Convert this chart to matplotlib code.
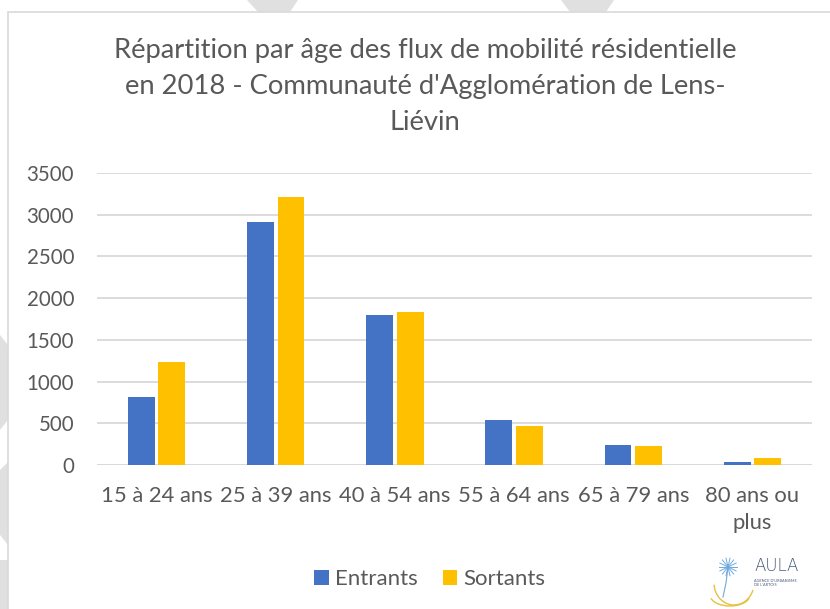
import matplotlib
matplotlib.use("Agg")
import matplotlib.pyplot as plt
from matplotlib.patches import Patch, Polygon, Rectangle, Arc
import numpy as np

plt.rcParams['font.family'] = ['Lato', 'DejaVu Sans']

categories = ['15 à 24 ans', '25 à 39 ans', '40 à 54 ans', '55 à 64 ans',
              '65 à 79 ans', '80 ans ou\nplus']
entrants = [810, 2915, 1796, 545, 244, 40]
sortants = [1231, 3216, 1832, 465, 224, 80]
series_names = ['Entrants', 'Sortants']

BLUE = '#4472C4'
ORANGE = '#FFC000'
TEXT = '#595959'
GRID = '#D9D9D9'

W, H = 830, 609
fig = plt.figure(figsize=(W / 100, H / 100), dpi=100)


def fx(px):
    return px / W


def fy(py):
    return 1 - py / H


# watermark stripes behind the chart frame
for poly in ([(247, 0), (298, 0), (290, 12), (258, 12)],
             [(561, 0), (614, 0), (606, 12), (570, 12)],
             [(0, 335), (8, 345), (8, 420), (0, 430)],
             [(0, 470), (8, 462), (8, 545), (0, 535)],
             [(0, 560), (8, 560), (8, 609), (0, 609)]):
    fig.patches.append(Polygon([(fx(a), fy(b)) for a, b in poly], closed=True,
                               transform=fig.transFigure, facecolor='#E0E0E0',
                               edgecolor='none', zorder=0))

# chart frame
fig.patches.append(Rectangle((fx(8), fy(620)), fx(840) - fx(8), fy(12) - fy(620),
                             transform=fig.transFigure, facecolor='white',
                             edgecolor=GRID, linewidth=1.2, zorder=1))

ax = fig.add_axes([fx(97), fy(465), fx(812) - fx(97), fy(173) - fy(465)])
ax.set_zorder(3)
ax.set_facecolor('none')

x = np.arange(len(categories))
bw = 0.225
off = 0.1275
ax.bar(x - off, entrants, bw, color=BLUE, label=series_names[0], zorder=3)
ax.bar(x + off, sortants, bw, color=ORANGE, label=series_names[1], zorder=3)

ax.set_xlim(-0.5, len(categories) - 0.5)
ax.set_ylim(0, 3500)
ax.set_yticks(range(0, 3501, 500))
ax.yaxis.grid(True, color=GRID, linewidth=1.3, zorder=0)
ax.set_axisbelow(True)
for s in ax.spines.values():
    s.set_visible(False)
ax.axhline(0, color=GRID, linewidth=1.3, zorder=2)

ax.set_xticks(x)
ax.set_xticklabels(categories, fontsize=15.8, color=TEXT, linespacing=1.45)
ax.tick_params(axis='x', length=0, pad=15)
ax.tick_params(axis='y', length=0, pad=16.5, labelsize=14.8, labelcolor=TEXT)

fig.text(fx(425), fy(86.5),
         "Répartition par âge des flux de mobilité résidentielle\n"
         "en 2018 - Communauté d'Agglomération de Lens-\nLiévin",
         ha='center', va='center', fontsize=19.7, color=TEXT, linespacing=1.53,
         zorder=4)

handles = [Patch(facecolor=BLUE), Patch(facecolor=ORANGE)]
leg = fig.legend(handles, series_names, loc='center', bbox_to_anchor=(fx(430), fy(579)),
                 ncol=2, frameon=False, fontsize=16, labelcolor=TEXT,
                 handlelength=0.65, handleheight=0.65, handletextpad=0.3,
                 columnspacing=1.1)
leg.set_zorder(4)

# small AULA logo (pixel coordinates inside a 100x62 box)
lg = fig.add_axes([fx(708), fy(607), fx(808) - fx(708), fy(545) - fy(607)])
lg.set_zorder(4)
lg.set_xlim(0, 100)
lg.set_ylim(62, 0)
lg.axis('off')
lg.add_patch(Arc((26, 38), 40, 44, theta1=20, theta2=175, color='#E8C040', lw=1.0))
lg.add_patch(Arc((22, 50), 40, 22, theta1=10, theta2=170, color='#E8C040', lw=1.0))
for ang in np.linspace(0, 2 * np.pi, 14, endpoint=False):
    lg.plot([20, 20 + 9 * np.cos(ang)], [22, 22 + 9 * np.sin(ang)],
            color='#6FA8DC', lw=0.7)
lg.plot([20, 18, 15], [22, 38, 52], color='#6FA8DC', lw=0.8)
lg.text(46, 21, 'AULA', fontsize=12, color='#4A5A7A', va='center', ha='left',
        family='DejaVu Sans', fontweight='light')
lg.text(46, 38, "AGENCE D'URBANISME\nDE L'ARTOIS", fontsize=2.8, color='#4A5A7A',
        va='center', ha='left', linespacing=1.3)

fig.savefig('out.png', dpi=100)
